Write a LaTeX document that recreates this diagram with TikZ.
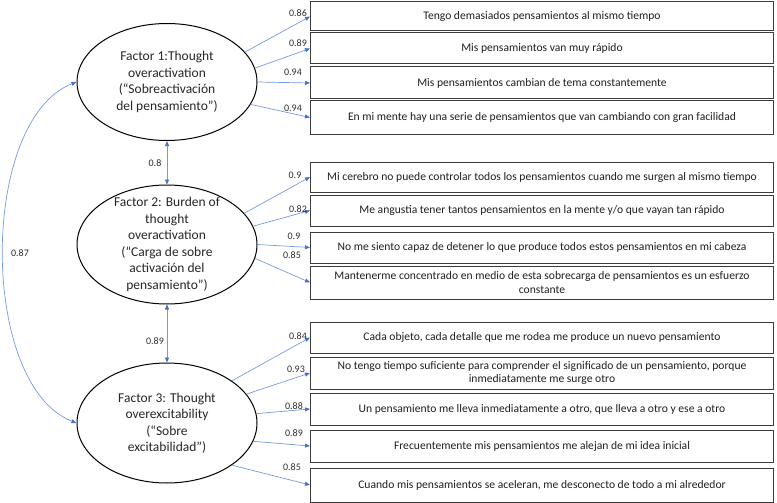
\documentclass[tikz,border=0pt]{standalone}
\usepackage{fontspec}
\setmainfont{Carlito}
\usetikzlibrary{shapes.geometric,arrows.meta}
\definecolor{lnblue}{RGB}{115,155,225}
\definecolor{tipblue}{RGB}{68,114,196}
\definecolor{boxgray}{RGB}{60,60,60}
\definecolor{numgray}{RGB}{45,45,45}
\begin{document}
\begin{tikzpicture}[x=1pt,y=-1pt,
 factor/.style={ellipse, draw=black, line width=1pt, minimum width=180pt, inner sep=0pt},
 ftext/.style={align=center, inner sep=0pt, font=\fontsize{13.5}{16.5}\selectfont, text=black!85},
 item/.style={rectangle, draw=boxgray, line width=1pt, minimum width=463pt, anchor=west, align=center, inner sep=2pt, font=\fontsize{11.6}{13.3}\selectfont, text=black!88},
 load/.style={draw=lnblue, line width=0.7pt, -{Triangle[length=5pt,width=4pt,color=tipblue]}},
 corr/.style={draw=lnblue, line width=0.7pt, {Triangle[length=5pt,width=4pt,color=tipblue]}-{Triangle[length=5pt,width=4pt,color=tipblue]}},
 num/.style={font=\fontsize{10}{11}\selectfont, text=numgray, inner sep=0pt}
]
\useasboundingbox (0,0) rectangle (777,503);

% factors
\node[factor, minimum height=117pt] (e1) at (167,82) {};
\node[ftext] (t1) at (e1.center) {Factor 1:Thought\\overactivation\\(“Sobreactivación\\del pensamiento”)};
\node[factor, minimum height=119pt] (e2) at (167,244.5) {};
\node[ftext] (t2) at (e2.center) {Factor 2: Burden of\\thought\\overactivation\\(“Carga de sobre\\activación del\\pensamiento”)};
\node[factor, minimum height=120pt] (e3) at (167,423) {};
\node[ftext] (t3) at (e3.center) {Factor 3: Thought\\overexcitability\\(“Sobre\\excitabilidad”)};

% items
\node[item, minimum height=29pt] (b1) at (310,16.5) {Tengo demasiados pensamientos al mismo tiempo};
\node[item, minimum height=31pt] (b2) at (310,48.5) {Mis pensamientos van muy rápido};
\node[item, minimum height=32pt] (b3) at (310,83) {Mis pensamientos cambian de tema constantemente};
\node[item, minimum height=33pt] (b4) at (310,117.5) {En mi mente hay una serie de pensamientos que van cambiando con gran facilidad};
\node[item, minimum height=30pt] (b5) at (310,177) {Mi cerebro no puede controlar todos los pensamientos cuando me surgen al mismo tiempo};
\node[item, minimum height=31pt] (b6) at (310,210.5) {Me angustia tener tantos pensamientos en la mente y/o que vayan tan rápido};
\node[item, minimum height=31pt] (b7) at (310,247.5) {No me siento capaz de detener lo que produce todos estos pensamientos en mi cabeza};
\node[item, minimum height=33pt] (b8) at (310,282.5) {Mantenerme concentrado en medio de esta sobrecarga de pensamientos es un esfuerzo\\constante};
\node[item, minimum height=31pt] (b9) at (310,337.5) {Cada objeto, cada detalle que me rodea me produce un nuevo pensamiento};
\node[item, minimum height=32pt] (b10) at (310,373) {No tengo tiempo suficiente para comprender el significado de un pensamiento, porque\\inmediatamente me surge otro};
\node[item, minimum height=32pt] (b11) at (310,409) {Un pensamiento me lleva inmediatamente a otro, que lleva a otro y ese a otro};
\node[item, minimum height=32pt] (b12) at (310,446) {Frecuentemente mis pensamientos me alejan de mi idea inicial};
\node[item, minimum height=34pt] (b13) at (310,485) {Cuando mis pensamientos se aceleran, me desconecto de todo a mi alrededor};

% loadings
\draw[load] (e1.21.8) -- (b1.west);
\draw[load] (e1.9.7) -- (b2.west);
\draw[load] (e1.0) -- (b3.west);
\draw[load] (e1.-15.6) -- (b4.west);
\draw[load] (e2.22) -- (b5.west);
\draw[load] (e2.12) -- (b6.west);
\draw[load] (e2.0) -- (b7.west);
\draw[load] (e2.-9) -- (b8.west);
\draw[load] (e3.33) -- (b9.west);
\draw[load] (e3.20) -- (b10.west);
\draw[load] (e3.6) -- (b11.west);
\draw[load] (e3.-12) -- (b12.west);
\draw[load] (e3.-33) -- (b13.west);

\node[num] (l1) at (298,13) {0.86};
\node[num] (l2) at (298,43) {0.89};
\node[num] (l3) at (293,72) {0.94};
\node[num] (l4) at (293,108) {0.94};
\node[num] (l5) at (295,175) {0.9};
\node[num] (l6) at (298,209) {0.82};
\node[num] (l7) at (294,236) {0.9};
\node[num] (l8) at (292,255) {0.85};
\node[num] (l9) at (298,336) {0.84};
\node[num] (l10) at (296,369) {0.93};
\node[num] (l11) at (294,406) {0.88};
\node[num] (l12) at (294,433) {0.89};
\node[num] (l13) at (292,467) {0.85};

% correlations
\draw[corr] (e1.south) -- (e2.north);
\draw[corr] (e2.south) -- (e3.north);
\draw[corr] (e1.west) .. controls (-21,120) and (-21,385) .. (e3.west);
\node[num] (c12) at (155,163) {0.8};
\node[num] (c23) at (155,341) {0.89};
\node[num] (c13) at (20,253) {0.87};
\end{tikzpicture}
\end{document}
